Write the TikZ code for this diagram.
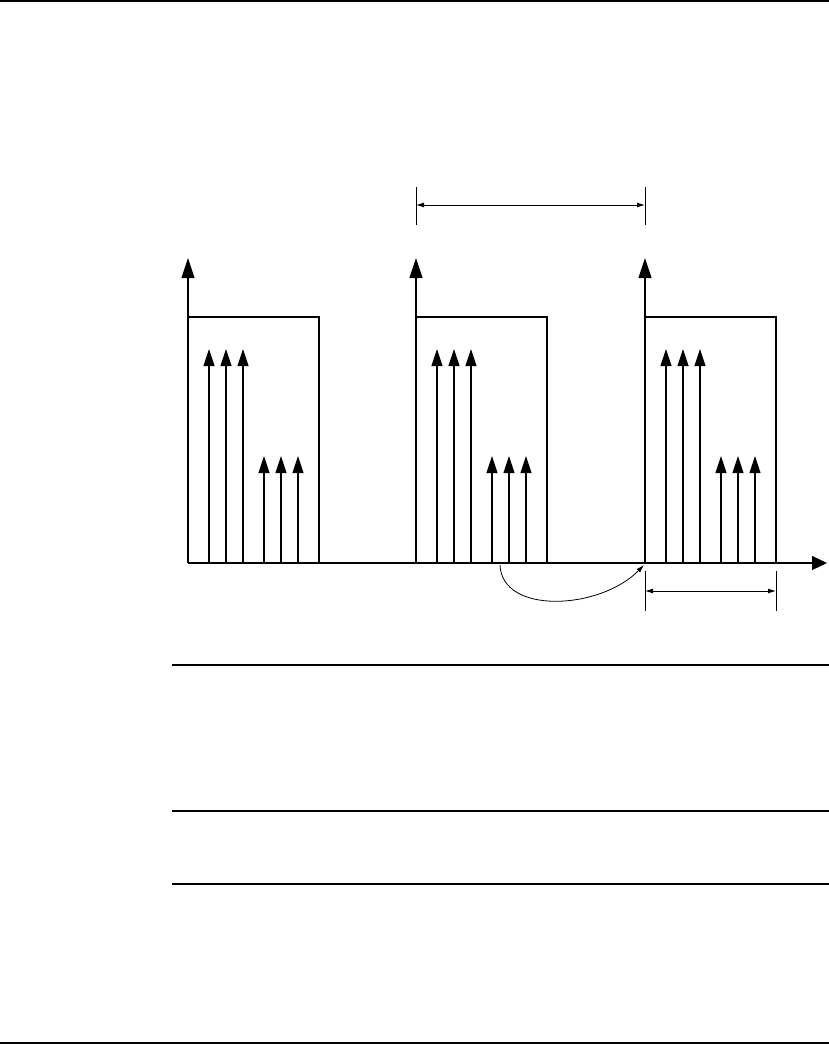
\documentclass[tikz,border=0pt]{standalone}
\usetikzlibrary{arrows.meta}
\begin{document}
\begin{tikzpicture}[x=1pt,y=-1pt,line width=1.1pt,
  bigtip/.style={-{Triangle[length=20pt,width=13pt]}},
  smalltip/.style={-{Triangle[length=17pt,width=11pt]}},
  dimline/.style={line width=0.9pt,{Latex[length=8pt,width=5pt]}-{Latex[length=8pt,width=5pt]}},
  tick/.style={line width=1pt},
  rule/.style={line width=1.3pt}]
\useasboundingbox (0,0) rectangle (829,1044);
% page rules
\coordinate (tl) at (0,1); \coordinate (tr) at (829,1);
\coordinate (bl) at (0,1043); \coordinate (br) at (829,1043);
\draw[rule] (tl) -- (tr);
\draw[rule] (bl) -- (br);
\foreach \y/\n in {665/a,811/b,884/c}{
  \coordinate (r\n l) at (172,\y); \coordinate (r\n r) at (829,\y);
  \draw[rule] (r\n l) -- (r\n r);
}
% time axis
\coordinate (ax0) at (188,563); \coordinate (ax1) at (827,563);
\draw[-{Triangle[length=15pt,width=14pt]}] (ax0) -- (ax1);
% periods
\foreach \x/\n in {188/1,416/2,645/3}{
  \coordinate (p\n b) at (\x,563);
  \coordinate (p\n t) at (\x,258);
  \coordinate (p\n c) at (\x,317);
  \coordinate (p\n d) at (\x+131,317);
  \coordinate (p\n e) at (\x+131,563);
  \draw[bigtip] (p\n b) -- (p\n t);
  \draw (p\n c) -- (p\n d) -- (p\n e);
  \foreach \dx/\k in {21/1,38/2,55/3}{
    \coordinate (s\n\k b) at (\x+\dx,563);
    \coordinate (s\n\k t) at (\x+\dx,349);
    \draw[smalltip] (s\n\k b) -- (s\n\k t);
  }
  \foreach \dx/\k in {76/4,93/5,110/6}{
    \coordinate (s\n\k b) at (\x+\dx,563);
    \coordinate (s\n\k t) at (\x+\dx,456);
    \draw[smalltip] (s\n\k b) -- (s\n\k t);
  }
}
% top dimension
\coordinate (d1a) at (416,187); \coordinate (d1b) at (416,225);
\coordinate (d1c) at (645,187); \coordinate (d1d) at (645,225);
\draw[tick] (d1a) -- (d1b);
\draw[tick] (d1c) -- (d1d);
\coordinate (d1l) at (416,205); \coordinate (d1r) at (645,205);
\draw[dimline] (d1l) -- (d1r);
% bottom dimension
\coordinate (d2a) at (645,571); \coordinate (d2b) at (645,611);
\coordinate (d2c) at (776,571); \coordinate (d2d) at (776,611);
\draw[tick] (d2a) -- (d2b);
\draw[tick] (d2c) -- (d2d);
\coordinate (d2l) at (645,591); \coordinate (d2r) at (776,591);
\draw[dimline] (d2l) -- (d2r);
% curved arrow
\coordinate (cv0) at (500,565); \coordinate (cv1) at (644,565);
\draw[line width=0.8pt,-{Latex[length=8pt,width=5pt]}] (cv0) .. controls (502,615) and (600,610) .. (cv1);
\end{tikzpicture}
\end{document}
